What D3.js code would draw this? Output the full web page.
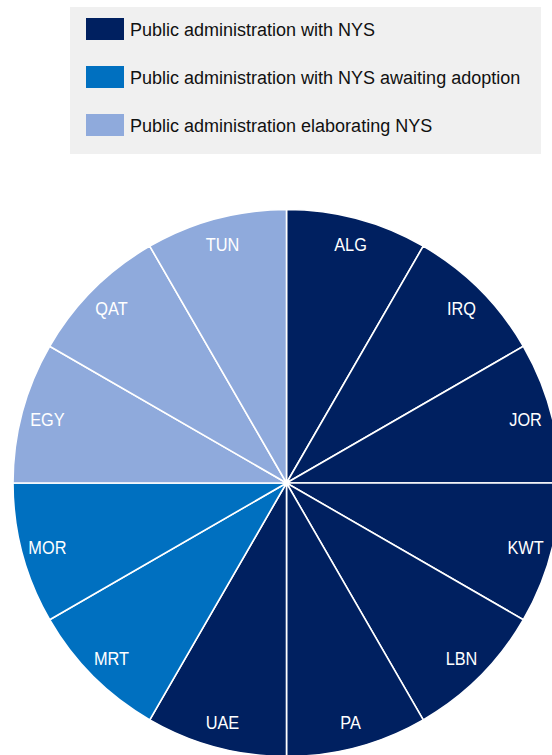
<!DOCTYPE html>
<html>
<head>
<meta charset="utf-8">
<script src="https://cdn.jsdelivr.net/npm/d3@7"></script>
<style>
  html, body { margin: 0; padding: 0; background: #fff; }
  svg { display: block; }
</style>
</head>
<body>
<svg id="chart" width="552" height="755"></svg>
<script>
// ---- data ----
const countries = ["ALG","IRQ","JOR","KWT","LBN","PA","UAE","MRT","MOR","EGY","QAT","TUN"];
const statusIndex = [0,0,0,0,0,0,0,1,1,2,2,2];
const sliceValues = [1,1,1,1,1,1,1,1,1,1,1,1];
const legendLabels = [
  "Public administration with NYS",
  "Public administration with NYS awaiting adoption",
  "Public administration elaborating NYS"
];
const legendColors = ["#002060", "#0070C0", "#8FAADC"];

// ---- layout ----
const svg = d3.select("#chart");
const cx = 286.5, cy = 483, R = 273.5;

// legend
const lg = svg.append("g");
lg.append("rect").attr("x", 70).attr("y", 7).attr("width", 471).attr("height", 147)
  .attr("fill", "#F0F0F0");
const yLegend = d3.scalePoint().domain(d3.range(legendLabels.length)).range([29, 125]);
const items = lg.selectAll("g.item").data(legendLabels).join("g").attr("class", "item")
  .attr("transform", (d, i) => `translate(0,${yLegend(i)})`);
items.append("rect").attr("x", 86).attr("y", -11).attr("width", 38).attr("height", 22)
  .attr("fill", (d, i) => legendColors[i]);
items.append("text").attr("x", 130).attr("y", 7)
  .attr("font-family", "'Liberation Sans', Arial, sans-serif")
  .attr("font-size", 18).attr("fill", "#111")
  .text(d => d);

// pie
const color = d3.scaleOrdinal().domain(d3.range(legendColors.length)).range(legendColors);
const pie = d3.pie().sort(null).value(d => d.v);
const data = countries.map((c, i) => ({ name: c, v: sliceValues[i], s: statusIndex[i] }));
const arcs = pie(data);
const arc = d3.arc().innerRadius(0).outerRadius(R);
const labelArc = d3.arc().innerRadius(R * 0.905).outerRadius(R * 0.905);

const pg = svg.append("g").attr("transform", `translate(${cx},${cy})`);
pg.selectAll("path").data(arcs).join("path")
  .attr("d", arc)
  .attr("fill", d => color(d.data.s))
  .attr("stroke", "#fff").attr("stroke-width", 1.6).attr("stroke-linejoin", "round");

pg.selectAll("text").data(arcs).join("text")
  .attr("transform", d => { const [x, y] = labelArc.centroid(d); return `translate(${x},${y}) scale(0.86,1)`; })
  .attr("text-anchor", "middle")
  .attr("dy", "0.36em")
  .attr("font-family", "'Liberation Sans', Arial, sans-serif")
  .attr("font-size", 19).attr("fill", "#fff")
  .text(d => d.data.name);
</script>
</body>
</html>
